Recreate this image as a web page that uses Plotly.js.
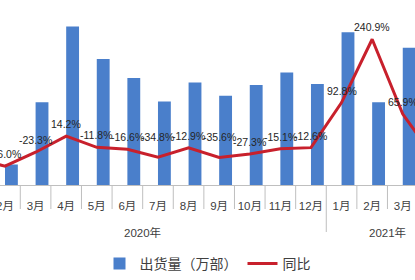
<!DOCTYPE html>
<html>
<head>
<meta charset="utf-8">
<script src="https://cdn.plot.ly/plotly-3.0.1.min.js"></script>
<style>html,body{margin:0;padding:0;background:#fff;}#chart{width:415px;height:280px;}</style>
</head>
<body>
<div id="chart"></div>
<script>
var years = ['2020年','2020年','2020年','2020年','2020年','2020年','2020年','2020年','2020年','2020年','2020年','2020年','2021年','2021年','2021年','2021年'];
var months = ['1月','2月','3月','4月','5月','6月','7月','8月','9月','10月','11月','12月','1月','2月','3月','4月'];
var shipments = [2089, 540, 2175, 4173, 3318, 2817, 2200, 2700, 2350, 2630, 2960, 2660, 4020, 2176, 3610, 2340];
var yoy = [-37.0, -56.0, -23.3, 14.2, -11.8, -16.6, -34.8, -12.9, -35.6, -27.3, -15.1, -12.6, 92.8, 240.9, 65.9, -34.1];

var FONT = 'Liberation Sans, Noto Sans CJK SC, sans-serif';
var GRAY = '#BFBFBF';
var idx = months.map(function(_, i){ return i; });

var bars = {
  type: 'bar', name: '出货量（万部）',
  x: idx, y: shipments,
  marker: {color: '#4A7FCB'},
  width: 0.42, offset: 0,
  hoverinfo: 'skip'
};
var line = {
  type: 'scatter', mode: 'lines', name: '同比',
  x: idx, y: yoy, yaxis: 'y2',
  line: {color: '#C8202C', width: 3},
  hoverinfo: 'skip'
};

// value labels
var raised = {6: 20, 8: 20};
var annotations = yoy.map(function(v, i){
  return {
    x: i, y: v, xref: 'x', yref: 'y2',
    text: v.toFixed(1) + '%', showarrow: false,
    yanchor: 'middle', xanchor: 'center',
    yshift: raised[i] || 12,
    font: {family: FONT, size: 10.5, color: '#262626'}
  };
});

// category boundary ticks and year group labels
var shapes = [];
for (var b = 0; b <= months.length; b++) {
  var isYear = (b === 0 || b === months.length || years[b] !== years[b - 1]);
  shapes.push({
    type: 'line', xref: 'x', yref: 'paper', ysizemode: 'pixel', yanchor: 0,
    x0: b - 0.5, x1: b - 0.5, y0: 0, y1: isYear ? -47 : -24,
    line: {color: GRAY, width: 1}
  });
}
var groups = {};
years.forEach(function(y, i){
  if (!groups[y]) groups[y] = [i, i]; else groups[y][1] = i;
});
Object.keys(groups).forEach(function(y){
  annotations.push({
    x: (groups[y][0] + groups[y][1]) / 2, y: 0, xref: 'x', yref: 'paper',
    yanchor: 'middle', yshift: -47, showarrow: false, text: y,
    font: {family: FONT, size: 11.5, color: '#404040'}
  });
});

var layout = {
  width: 415, height: 280,
  margin: {l: 0, r: 0, t: 14, b: 88},
  paper_bgcolor: '#fff', plot_bgcolor: '#fff',
  showlegend: true,
  legend: {orientation: 'h', x: 0.5, xanchor: 'center', y: -0.37, yanchor: 'top',
           font: {family: FONT, size: 14, color: '#404040'}, itemwidth: 30},
  xaxis: {
    type: 'linear',
    range: [0.837, 14.4],
    tickmode: 'array', tickvals: idx, ticktext: months,
    showline: true, linecolor: GRAY, linewidth: 1,
    ticks: '', tickangle: 0, ticklabelstandoff: 10, ticklabeloverflow: 'allow',
    tickfont: {family: FONT, size: 11.5, color: '#404040'},
    showgrid: false, zeroline: false, automargin: false
  },
  yaxis: {range: [0, 4500], visible: false, showgrid: false, zeroline: false},
  yaxis2: {range: [-100, 300], overlaying: 'y', side: 'right', visible: false, showgrid: false, zeroline: false},
  annotations: annotations,
  shapes: shapes,
  font: {family: FONT}
};

Plotly.newPlot('chart', [bars, line], layout, {staticPlot: true, displayModeBar: false});
</script>
</body>
</html>
